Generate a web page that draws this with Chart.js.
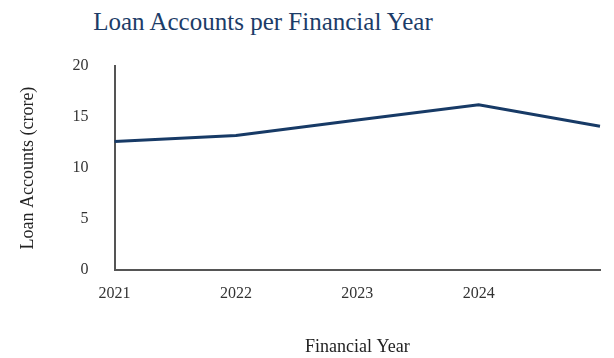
<!DOCTYPE html>
<html>
<head>
<meta charset="utf-8">
<script src="https://cdn.jsdelivr.net/npm/chart.js@4"></script>
<style>
  html, body { margin: 0; padding: 0; background: #fff; }
  .wrap { position: relative; width: 614px; height: 358px; }
  .title {
    position: absolute; left: 0; top: 8px; width: 526px;
    text-align: center; font-family: "Liberation Serif", serif;
    font-size: 25px; color: #1c3c68;
  }
  canvas { position: absolute; left: 0; top: 0; }
</style>
</head>
<body>
<div class="wrap">
  <div class="title">Loan Accounts per Financial Year</div>
  <canvas id="loanChart" width="614" height="358"></canvas>
</div>
<script>
const years = ['2021', '2022', '2023', '2024', '2025'];
const loanAccounts = [12.6, 13.2, 14.7, 16.2, 14.1];
const yTicks = [0, 5, 10, 15, 20];

const serif = '"Liberation Serif", serif';
const canvas = document.getElementById('loanChart');

new Chart(canvas, {
    type: 'line',
    data: {
        labels: years,
        datasets: [
            {
                label: 'Loan Accounts',
                data: loanAccounts,
                borderColor: '#173a66',
                borderWidth: 3,
                pointRadius: 0,
                tension: 0,
                fill: false,
            },
        ],
    },
    options: {
        responsive: false,
        animation: false,
        layout: { padding: { top: 66, right: 0, left: 17, bottom: 0 } },
        plugins: {
            legend: { display: false },
            tooltip: { enabled: false },
        },
        scales: {
            x: {
                offset: false,
                grid: { display: false, drawTicks: false },
                border: { display: true, color: '#555', width: 2 },
                ticks: {
                    color: '#333',
                    font: { family: serif, size: 16 },
                    padding: 14,
                    maxRotation: 0,
                    autoSkip: false,
                    callback: (value, index) => (index === years.length - 1 ? '' : years[index]),
                },
                title: {
                    display: true,
                    text: 'Financial Year',
                    color: '#222',
                    font: { family: serif, size: 18 },
                    padding: { top: 19, bottom: 0 },
                },
            },
            y: {
                min: yTicks[0],
                max: yTicks[yTicks.length - 1],
                afterBuildTicks: (axis) => {
                    axis.ticks = yTicks.map((v) => ({ value: v }));
                },
                grid: { display: false, drawTicks: false },
                border: { display: true, color: '#555', width: 2 },
                ticks: {
                    color: '#333',
                    font: { family: serif, size: 16 },
                    padding: 26,
                },
                title: {
                    display: true,
                    text: 'Loan Accounts (crore)',
                    color: '#222',
                    font: { family: serif, size: 18 },
                    padding: { top: 0, bottom: 8 },
                },
            },
        },
    },
});
</script>
</body>
</html>
